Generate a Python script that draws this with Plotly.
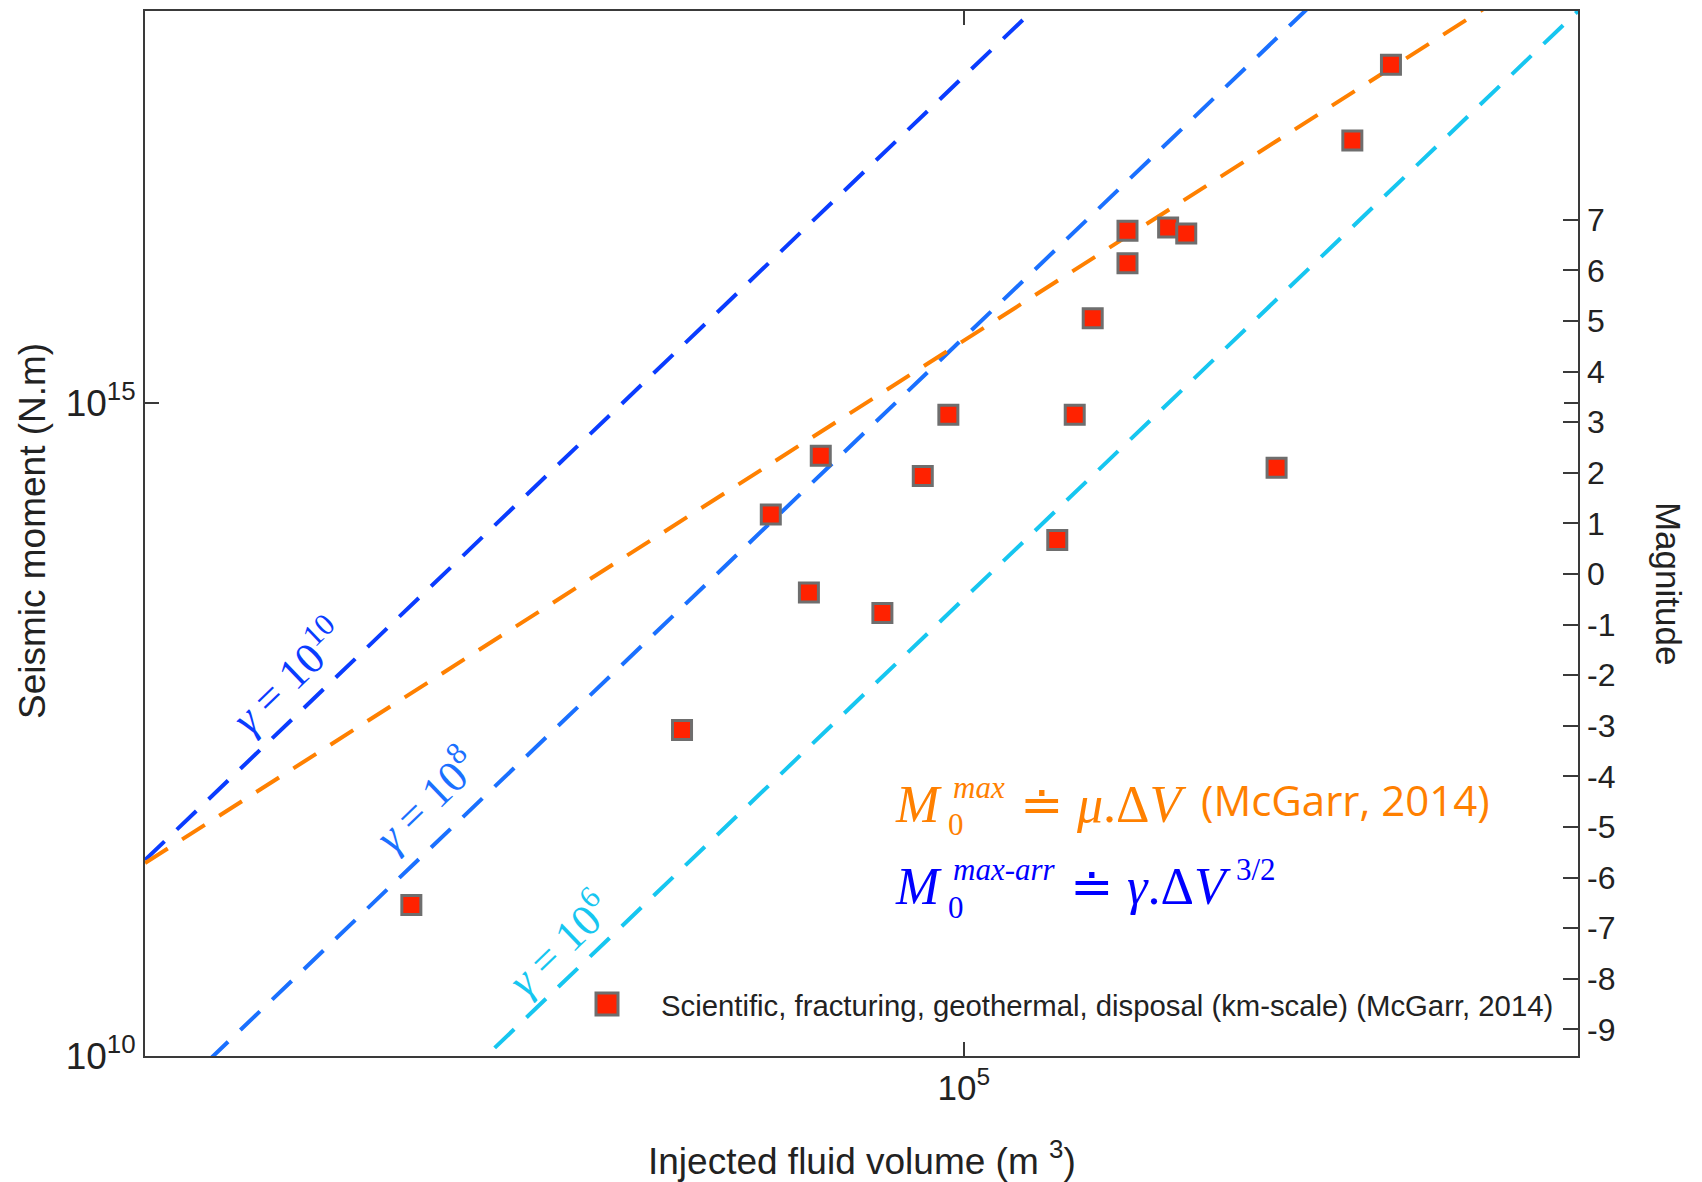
import plotly.graph_objects as go

# ---------------- data ----------------
volume_m3 = [2.0e2, 4.2e3, 1.14e4, 1.75e4, 2.0e4, 4.0e4, 6.3e4, 8.4e4, 2.86e5,
             3.48e5, 4.26e5, 6.3e5, 6.3e5, 9.95e5, 1.22e6, 3.37e6, 7.9e6, 1.22e7]
moment_nm = [1.43e11, 3.13e12, 1.40e14, 3.54e13, 3.94e14, 2.46e13, 2.75e14, 8.1e14, 8.9e13,
             8.1e14, 4.45e15, 1.17e16, 2.08e16, 2.20e16, 1.98e16, 3.18e14, 1.02e17, 3.88e17]
series_name = "Scientific, fracturing, geothermal, disposal (km-scale) (McGarr, 2014)"

gamma_values = [1e10, 1e8, 1e6]
gamma_exponents = ["10", "8", "6"]
shear_modulus = 3e10
guide_volume = [1e1, 1e8]

x_tickvals = [1e5]
x_ticktext = ["10<sup>5</sup>"]
y_tickvals = [1e10, 1e15]
y_ticktext = ["10<sup>10</sup>", "10<sup>15</sup>"]
magnitude_ticks = list(range(-9, 8))
magnitude_ticktext = [str(v) for v in magnitude_ticks]

# ---------------- styling ----------------
W, H = 1702, 1182
ML, MR, MT, MB = 145, 124, 9, 126
PW, PH = W - ML - MR, H - MT - MB
gamma_colors = ["#0a3cff", "#1a70ff", "#16c6f0"]
orange = "#ff8000"
formula_blue = "#0000ff"
axis_col = "#3a3a3a"
text_col = "#222222"
marker_fill = "#ff2200"
marker_edge = "#6e6e6e"
SANS = "Liberation Sans, Arial, sans-serif"
SERIF = "Liberation Serif, Times New Roman, serif"
DASH = "27px,17px"


def px(X, Y):
    return (X - ML) / PW, (H - MB - Y) / PH


fig = go.Figure()

for g, col in zip(gamma_values, gamma_colors):
    fig.add_trace(go.Scatter(x=guide_volume, y=[g * v ** 1.5 for v in guide_volume], mode="lines",
                             line=dict(color=col, width=4, dash=DASH), showlegend=False,
                             hoverinfo="skip"))
fig.add_trace(go.Scatter(x=guide_volume, y=[shear_modulus * v for v in guide_volume], mode="lines",
                         line=dict(color=orange, width=4, dash=DASH), showlegend=False,
                         hoverinfo="skip"))
fig.add_trace(go.Scatter(x=volume_m3, y=moment_nm, mode="markers", name=series_name,
                         showlegend=False,
                         marker=dict(symbol="square", size=19, color=marker_fill,
                                     line=dict(color=marker_edge, width=3))))
fig.add_trace(go.Scatter(x=[], y=[], yaxis="y2", showlegend=False, hoverinfo="skip"))

annotations = []
shapes = []


def ann(text, X, Y, size, color, family, xanchor="left", yanchor="middle", angle=0):
    xp, yp = px(X, Y)
    annotations.append(dict(text=text, x=xp, y=yp, xref="paper", yref="paper", showarrow=False,
                            xanchor=xanchor, yanchor=yanchor, textangle=angle,
                            font=dict(size=size, color=color, family=family)))


# gamma labels along the lines
gamma_label_pos = [(287, 675), (425, 798), (558, 942)]
for e, col, (X, Y) in zip(gamma_exponents, gamma_colors, gamma_label_pos):
    ann("<i>γ</i> = 10<sup>%s</sup>" % e, X, Y, 44, col, SERIF, xanchor="center", angle=-44)

# orange formula
ann("<i>M</i>", 893, 804, 52, orange, SERIF)
ann("<i>max</i>", 951, 787, 31, orange, SERIF)
ann("0", 946, 824, 31, orange, SERIF)
ann("≐ <i>μ</i>.Δ<i>V</i>", 1018, 804, 52, orange, SERIF)
ann("(McGarr, 2014)", 1199, 799, 42, orange, "Open Sans, sans-serif")

# blue formula
ann("<i>M</i>", 893, 886, 52, formula_blue, SERIF)
ann("<i>max-arr</i>", 951, 869, 31, formula_blue, SERIF)
ann("0", 946, 907, 31, formula_blue, SERIF)
ann("≐ <i>γ</i>.Δ<i>V</i>", 1068, 886, 52, formula_blue, SERIF)
ann("3/2", 1234, 869, 31, formula_blue, SERIF)

# legend (key drawn at full marker size)
kx0, ky0 = px(596, 1015)
kx1, ky1 = px(618, 993)
shapes.append(dict(type="rect", xref="paper", yref="paper", x0=kx0, y0=ky0, x1=kx1, y1=ky1,
                   fillcolor=marker_fill, line=dict(color=marker_edge, width=3)))
ann(series_name, 659, 1005, 29.3, text_col, SANS)

# axis titles
ann("Injected fluid volume (m <sup>3</sup>)", 862, 1159, 37, text_col, SANS, xanchor="center")
ann("Seismic moment (N.m)", 32, 530, 37, text_col, SANS, xanchor="center", angle=-90)
ann("Magnitude", 1668, 582, 35, text_col, SANS, xanchor="center", angle=90)

axis_common = dict(showgrid=False, zeroline=False, showline=True, linecolor=axis_col, linewidth=2,
                   ticks="inside", ticklen=14, tickwidth=1.5, tickcolor=axis_col, mirror="ticks")

fig.update_layout(
    width=W, height=H, margin=dict(l=ML, r=MR, t=MT, b=MB),
    paper_bgcolor="white", plot_bgcolor="white",
    xaxis=dict(type="log", range=[1, 8], tickvals=x_tickvals, ticktext=x_ticktext,
               tickfont=dict(size=35, family=SANS, color=text_col), **axis_common),
    yaxis=dict(type="log", range=[10, 18], tickvals=y_tickvals, ticktext=y_ticktext,
               tickfont=dict(size=37, family=SANS, color=text_col), **axis_common),
    yaxis2=dict(overlaying="y", side="right", range=[-9.527, 11.129], tickvals=magnitude_ticks,
                ticktext=magnitude_ticktext,
                showgrid=False, zeroline=False, showline=False, ticks="inside", ticklen=15,
                tickwidth=1.5, tickcolor=axis_col, ticklabelstandoff=8,
                tickfont=dict(size=32, family=SANS, color=text_col)),
    annotations=annotations,
    shapes=shapes,
    showlegend=False,
)

fig.write_html("out.html")
